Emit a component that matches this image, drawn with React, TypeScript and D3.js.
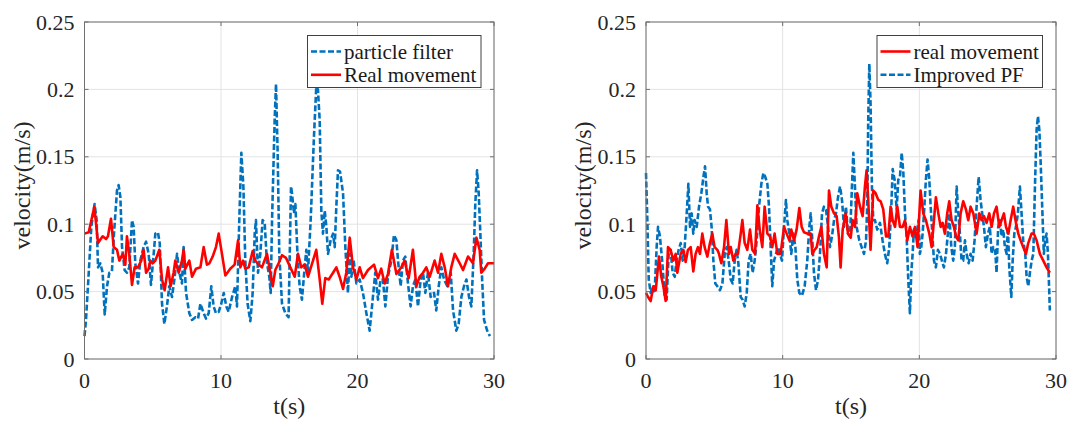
import React from "react";
import * as d3 from "d3";

type Pt = [number, number];

const xTicks = [0, 10, 20, 30];
const yTicks = [0, 0.05, 0.1, 0.15, 0.2, 0.25];
const yTickLabels = ["0", "0.05", "0.1", "0.15", "0.2", "0.25"];
const xLabel = "t(s)";
const yLabel = "velocity(m/s)";

const leftLegend = ["particle filter", "Real movement"];
const rightLegend = ["real movement", "Improved PF"];

const leftReal: Pt[] = [
  [0, 0.093], [0.31, 0.094], [0.72, 0.113], [0.99, 0.086], [1.33, 0.091], [1.58, 0.089], [1.72, 0.091],
  [1.94, 0.104], [2.14, 0.083], [2.38, 0.081], [2.55, 0.073], [2.8, 0.078], [2.99, 0.07], [3.11, 0.091],
  [3.28, 0.078], [3.48, 0.055], [3.67, 0.068], [3.92, 0.068], [4.16, 0.073], [4.33, 0.081], [4.51, 0.064],
  [4.7, 0.067], [4.82, 0.073], [4.99, 0.071], [5.19, 0.073], [5.48, 0.081], [5.68, 0.059], [5.87, 0.051],
  [6.12, 0.068], [6.31, 0.054], [6.53, 0.064], [6.65, 0.073], [6.9, 0.064], [7.14, 0.073], [7.26, 0.081],
  [7.39, 0.067], [7.68, 0.073], [7.88, 0.061], [8.17, 0.067], [8.49, 0.068], [8.73, 0.083], [8.97, 0.07],
  [9.15, 0.071], [9.39, 0.076], [9.63, 0.083], [9.83, 0.093], [10.07, 0.078], [10.32, 0.062], [10.68, 0.067],
  [11.0, 0.07], [11.25, 0.088], [11.42, 0.068], [11.61, 0.073], [11.78, 0.067], [12.03, 0.068], [12.32, 0.08],
  [12.51, 0.073], [12.76, 0.07], [13.0, 0.068], [13.37, 0.078], [13.54, 0.068], [13.79, 0.054], [13.98, 0.066],
  [14.22, 0.071], [14.47, 0.077], [14.76, 0.075], [15.08, 0.068], [15.4, 0.061], [15.64, 0.078], [15.88, 0.068],
  [16.13, 0.07], [16.37, 0.061], [16.74, 0.073], [16.98, 0.081], [17.23, 0.059], [17.42, 0.041], [17.64, 0.06],
  [17.89, 0.059], [18.21, 0.064], [18.45, 0.068], [18.69, 0.061], [18.94, 0.052], [19.18, 0.064], [19.43, 0.09],
  [19.67, 0.068], [19.92, 0.059], [20.16, 0.068], [20.4, 0.06], [20.77, 0.066], [21.21, 0.07], [21.5, 0.06],
  [21.74, 0.067], [21.99, 0.056], [22.23, 0.063], [22.52, 0.081], [22.85, 0.063], [23.21, 0.068], [23.45, 0.073],
  [23.75, 0.06], [24.06, 0.081], [24.31, 0.054], [24.55, 0.061], [24.8, 0.064], [25.04, 0.068], [25.29, 0.061],
  [25.65, 0.073], [25.9, 0.064], [26.14, 0.078], [26.39, 0.068], [26.63, 0.054], [26.87, 0.068], [27.12, 0.078],
  [27.49, 0.071], [27.73, 0.066], [28.1, 0.076], [28.46, 0.071], [28.71, 0.09], [28.95, 0.081], [29.07, 0.064],
  [29.32, 0.067], [29.56, 0.071], [30, 0.071],
];

const leftParticleFilter: Pt[] = [
  [0, 0.017], [0.11, 0.029], [0.31, 0.064], [0.5, 0.098], [0.74, 0.115], [0.89, 0.103], [0.99, 0.068],
  [1.16, 0.071], [1.33, 0.064], [1.48, 0.033], [1.65, 0.054], [1.82, 0.064], [2.01, 0.065], [2.16, 0.093],
  [2.38, 0.125], [2.5, 0.129], [2.63, 0.12], [2.75, 0.083], [2.94, 0.066], [3.11, 0.064], [3.28, 0.068],
  [3.48, 0.103], [3.6, 0.098], [3.72, 0.071], [3.92, 0.056], [4.09, 0.073], [4.33, 0.083], [4.51, 0.087],
  [4.7, 0.078], [4.87, 0.055], [5.07, 0.078], [5.19, 0.093], [5.38, 0.094], [5.51, 0.086], [5.68, 0.041],
  [5.85, 0.026], [6.04, 0.039], [6.21, 0.054], [6.41, 0.046], [6.61, 0.061], [6.78, 0.078], [6.95, 0.064],
  [7.14, 0.056], [7.26, 0.083], [7.44, 0.049], [7.68, 0.034], [7.88, 0.029], [8.12, 0.031], [8.32, 0.03],
  [8.49, 0.041], [8.73, 0.034], [8.9, 0.03], [9.1, 0.034], [9.29, 0.054], [9.46, 0.039], [9.63, 0.034],
  [9.83, 0.035], [10.02, 0.041], [10.2, 0.049], [10.39, 0.039], [10.56, 0.035], [10.81, 0.046], [11.05, 0.054],
  [11.17, 0.039], [11.34, 0.103], [11.49, 0.153], [11.64, 0.128], [11.78, 0.073], [11.95, 0.041], [12.15, 0.028],
  [12.32, 0.049], [12.47, 0.093], [12.56, 0.103], [12.71, 0.064], [12.88, 0.078], [13.05, 0.103], [13.2, 0.101],
  [13.37, 0.071], [13.54, 0.061], [13.64, 0.049], [13.74, 0.103], [13.93, 0.177], [14.03, 0.204], [14.15, 0.153],
  [14.27, 0.078], [14.47, 0.041], [14.71, 0.034], [14.95, 0.031], [15.13, 0.128], [15.2, 0.123], [15.35, 0.108],
  [15.45, 0.115], [15.6, 0.078], [15.76, 0.054], [15.93, 0.044], [16.13, 0.068], [16.25, 0.081], [16.37, 0.064],
  [16.57, 0.103], [16.81, 0.165], [16.98, 0.202], [17.1, 0.2], [17.23, 0.177], [17.35, 0.11], [17.47, 0.093],
  [17.6, 0.11], [17.72, 0.098], [17.84, 0.078], [18.03, 0.088], [18.21, 0.093], [18.33, 0.083], [18.45, 0.113],
  [18.57, 0.14], [18.72, 0.139], [18.94, 0.123], [19.11, 0.083], [19.3, 0.049], [19.43, 0.078], [19.55, 0.061],
  [19.72, 0.073], [19.92, 0.056], [20.16, 0.059], [20.4, 0.049], [20.65, 0.034], [20.89, 0.021], [21.13, 0.046],
  [21.3, 0.064], [21.5, 0.044], [21.69, 0.059], [21.86, 0.059], [22.04, 0.039], [22.23, 0.061], [22.48, 0.073],
  [22.67, 0.092], [22.85, 0.088], [22.97, 0.073], [23.16, 0.054], [23.33, 0.073], [23.5, 0.076], [23.7, 0.056],
  [23.89, 0.039], [24.06, 0.054], [24.24, 0.059], [24.43, 0.039], [24.63, 0.059], [24.8, 0.064], [24.97, 0.049],
  [25.16, 0.064], [25.36, 0.046], [25.61, 0.049], [25.77, 0.036], [25.95, 0.054], [26.14, 0.068], [26.34, 0.059],
  [26.58, 0.054], [26.83, 0.064], [27.0, 0.036], [27.24, 0.021], [27.41, 0.026], [27.61, 0.046], [27.8, 0.054],
  [27.98, 0.059], [28.17, 0.046], [28.34, 0.039], [28.51, 0.078], [28.63, 0.115], [28.76, 0.14], [28.88, 0.123],
  [29.0, 0.093], [29.13, 0.059], [29.27, 0.029], [29.5, 0.021], [29.7, 0.017],
];

const rightReal: Pt[] = [
  [0, 0.049], [0.15, 0.046], [0.34, 0.043], [0.54, 0.054], [0.71, 0.051], [0.95, 0.076], [1.12, 0.061],
  [1.27, 0.054], [1.44, 0.043], [1.61, 0.083], [1.8, 0.081], [2.0, 0.073], [2.17, 0.078], [2.29, 0.064],
  [2.54, 0.078], [2.73, 0.081], [2.9, 0.072], [3.07, 0.081], [3.27, 0.083], [3.46, 0.065], [3.63, 0.078],
  [3.8, 0.083], [3.95, 0.078], [4.12, 0.093], [4.29, 0.083], [4.49, 0.076], [4.68, 0.086], [4.85, 0.093],
  [5.02, 0.083], [5.22, 0.081], [5.34, 0.078], [5.51, 0.071], [5.71, 0.083], [5.88, 0.103], [6.07, 0.078],
  [6.2, 0.083], [6.39, 0.073], [6.56, 0.078], [6.73, 0.078], [6.93, 0.093], [7.05, 0.103], [7.22, 0.086],
  [7.41, 0.081], [7.61, 0.096], [7.78, 0.081], [7.98, 0.078], [8.15, 0.114], [8.32, 0.096], [8.51, 0.083],
  [8.68, 0.113], [8.88, 0.093], [9.07, 0.091], [9.24, 0.083], [9.41, 0.093], [9.61, 0.078], [9.85, 0.078],
  [10.1, 0.098], [10.29, 0.093], [10.49, 0.088], [10.63, 0.096], [10.83, 0.088], [11.02, 0.096], [11.22, 0.112],
  [11.39, 0.098], [11.56, 0.094], [11.8, 0.093], [12.05, 0.093], [12.17, 0.078], [12.34, 0.081], [12.49, 0.083],
  [12.66, 0.091], [12.83, 0.098], [13.02, 0.078], [13.22, 0.068], [13.39, 0.125], [13.56, 0.113], [13.76, 0.108],
  [13.95, 0.106], [14.12, 0.09], [14.24, 0.068], [14.39, 0.096], [14.61, 0.108], [14.78, 0.093], [14.98, 0.09],
  [15.12, 0.103], [15.29, 0.098], [15.46, 0.123], [15.66, 0.113], [15.85, 0.106], [16.02, 0.128], [16.14, 0.14],
  [16.26, 0.118], [16.43, 0.081], [16.63, 0.125], [16.8, 0.123], [17.0, 0.118], [17.17, 0.117], [17.36, 0.111],
  [17.56, 0.091], [17.73, 0.091], [17.9, 0.113], [18.05, 0.103], [18.22, 0.098], [18.39, 0.113], [18.58, 0.098],
  [18.78, 0.098], [18.95, 0.103], [19.12, 0.088], [19.31, 0.098], [19.5, 0.091], [19.68, 0.098], [19.87, 0.083],
  [20.09, 0.125], [20.29, 0.108], [20.48, 0.103], [20.73, 0.093], [20.9, 0.083], [21.07, 0.103], [21.21, 0.12],
  [21.39, 0.108], [21.56, 0.098], [21.7, 0.101], [21.87, 0.093], [22.04, 0.108], [22.19, 0.117], [22.36, 0.103],
  [22.53, 0.098], [22.68, 0.091], [22.85, 0.088], [23.02, 0.108], [23.21, 0.117], [23.41, 0.111], [23.58, 0.103],
  [23.75, 0.113], [23.95, 0.108], [24.19, 0.093], [24.39, 0.108], [24.55, 0.103], [24.73, 0.106], [24.92, 0.101],
  [25.12, 0.108], [25.29, 0.098], [25.46, 0.108], [25.65, 0.113], [25.85, 0.098], [26.02, 0.103], [26.19, 0.108],
  [26.34, 0.098], [26.51, 0.093], [26.68, 0.103], [26.87, 0.113], [27.07, 0.101], [27.24, 0.093], [27.41, 0.088],
  [27.6, 0.083], [27.8, 0.078], [27.97, 0.086], [28.21, 0.093], [28.38, 0.093], [28.58, 0.088], [28.82, 0.078],
  [29.07, 0.073], [29.31, 0.068], [29.55, 0.064],
];

const rightImprovedPF: Pt[] = [
  [0, 0.138], [0.1, 0.103], [0.2, 0.059], [0.34, 0.049], [0.49, 0.054], [0.63, 0.049], [0.78, 0.083],
  [0.88, 0.098], [1.02, 0.091], [1.2, 0.071], [1.37, 0.046], [1.51, 0.044], [1.66, 0.078], [1.8, 0.081],
  [1.95, 0.064], [2.1, 0.061], [2.24, 0.073], [2.39, 0.081], [2.54, 0.086], [2.68, 0.073], [2.83, 0.083],
  [2.98, 0.108], [3.1, 0.13], [3.22, 0.098], [3.34, 0.108], [3.46, 0.093], [3.56, 0.103], [3.71, 0.098],
  [3.88, 0.113], [4.05, 0.123], [4.2, 0.135], [4.32, 0.143], [4.44, 0.123], [4.54, 0.113], [4.68, 0.111],
  [4.8, 0.098], [4.93, 0.073], [5.07, 0.056], [5.22, 0.054], [5.41, 0.051], [5.59, 0.056], [5.76, 0.078],
  [5.9, 0.083], [6.05, 0.073], [6.2, 0.059], [6.34, 0.056], [6.49, 0.073], [6.63, 0.081], [6.76, 0.071],
  [6.93, 0.046], [7.07, 0.044], [7.22, 0.039], [7.37, 0.049], [7.51, 0.073], [7.66, 0.078], [7.8, 0.064],
  [7.95, 0.073], [8.1, 0.088], [8.27, 0.113], [8.44, 0.13], [8.59, 0.138], [8.73, 0.135], [8.88, 0.13],
  [9.0, 0.113], [9.12, 0.083], [9.24, 0.054], [9.37, 0.073], [9.51, 0.078], [9.66, 0.083], [9.8, 0.078],
  [9.95, 0.073], [10.1, 0.098], [10.24, 0.118], [10.34, 0.103], [10.49, 0.093], [10.63, 0.078], [10.78, 0.093],
  [10.93, 0.083], [11.07, 0.059], [11.22, 0.049], [11.41, 0.047], [11.61, 0.054], [11.8, 0.073], [11.95, 0.098],
  [12.05, 0.108], [12.17, 0.088], [12.29, 0.064], [12.44, 0.051], [12.59, 0.059], [12.73, 0.078], [12.88, 0.108],
  [13.02, 0.113], [13.17, 0.111], [13.32, 0.098], [13.46, 0.083], [13.61, 0.091], [13.76, 0.103], [13.9, 0.108],
  [14.05, 0.12], [14.2, 0.128], [14.34, 0.118], [14.49, 0.098], [14.63, 0.113], [14.78, 0.093], [14.93, 0.091],
  [15.07, 0.128], [15.17, 0.153], [15.29, 0.128], [15.41, 0.098], [15.61, 0.088], [15.78, 0.083], [15.95, 0.078],
  [16.1, 0.088], [16.19, 0.115], [16.26, 0.177], [16.34, 0.219], [16.43, 0.19], [16.53, 0.128], [16.63, 0.103],
  [16.75, 0.103], [16.92, 0.096], [17.12, 0.101], [17.31, 0.088], [17.48, 0.078], [17.65, 0.071], [17.8, 0.083],
  [17.95, 0.113], [18.05, 0.141], [18.19, 0.133], [18.34, 0.111], [18.46, 0.133], [18.58, 0.135], [18.71, 0.153],
  [18.83, 0.138], [18.95, 0.108], [19.07, 0.091], [19.19, 0.059], [19.31, 0.034], [19.41, 0.064], [19.51, 0.078],
  [19.6, 0.096], [19.7, 0.091], [19.8, 0.093], [19.95, 0.103], [20.04, 0.078], [20.14, 0.083], [20.24, 0.093],
  [20.34, 0.108], [20.48, 0.133], [20.6, 0.148], [20.73, 0.133], [20.83, 0.113], [20.95, 0.093], [21.07, 0.073],
  [21.21, 0.068], [21.36, 0.081], [21.51, 0.078], [21.65, 0.073], [21.8, 0.068], [21.95, 0.078], [22.07, 0.091],
  [22.19, 0.108], [22.34, 0.083], [22.48, 0.073], [22.6, 0.083], [22.73, 0.128], [22.82, 0.113], [22.97, 0.093],
  [23.09, 0.073], [23.21, 0.073], [23.34, 0.088], [23.46, 0.078], [23.61, 0.071], [23.75, 0.078], [23.9, 0.073],
  [24.04, 0.088], [24.19, 0.113], [24.34, 0.135], [24.48, 0.118], [24.6, 0.108], [24.73, 0.098], [24.87, 0.083],
  [25.02, 0.093], [25.16, 0.098], [25.29, 0.078], [25.41, 0.083], [25.55, 0.081], [25.65, 0.064], [25.77, 0.098],
  [25.9, 0.103], [26.02, 0.091], [26.14, 0.096], [26.26, 0.083], [26.39, 0.078], [26.48, 0.098], [26.58, 0.068],
  [26.73, 0.046], [26.83, 0.073], [26.95, 0.093], [27.07, 0.098], [27.21, 0.108], [27.36, 0.128], [27.48, 0.108],
  [27.6, 0.088], [27.75, 0.078], [27.85, 0.061], [27.97, 0.054], [28.09, 0.064], [28.22, 0.073], [28.34, 0.078],
  [28.46, 0.128], [28.58, 0.17], [28.68, 0.18], [28.78, 0.17], [28.87, 0.148], [28.99, 0.113], [29.11, 0.078],
  [29.21, 0.088], [29.31, 0.093], [29.41, 0.078], [29.51, 0.049], [29.55, 0.036],
];

const BLUE = "#0072BD";
const RED = "#FF0000";
const FONT_STYLE = { fontFamily: '"Liberation Serif", monospace' };
const DASH = "6,2.5";

type Series = { data: Pt[]; color: string; dashed: boolean; label: string };

function Panel(props: {
  left: number;
  right: number;
  series: Series[];
  legendOrder: Series[];
  legendBox: { x: number; y: number; w: number; h: number };
}) {
  const { left, right, series, legendOrder, legendBox } = props;
  const top = 22;
  const bottom = 359;
  const x = d3.scaleLinear().domain([0, 30]).range([left, right]);
  const y = d3.scaleLinear().domain([0, 0.25]).range([bottom, top]);
  const line = d3
    .line<Pt>()
    .x((d) => x(d[0]))
    .y((d) => y(d[1]));
  const tickLen = 4;
  const axisColor = "#707070";
  const gridColor = "#e3e3e3";
  return (
    <g>
      {xTicks.map((t) => (
        <line key={"gx" + t} x1={x(t)} x2={x(t)} y1={top} y2={bottom} stroke={gridColor} strokeWidth={1} />
      ))}
      {yTicks.map((t) => (
        <line key={"gy" + t} x1={left} x2={right} y1={y(t)} y2={y(t)} stroke={gridColor} strokeWidth={1} />
      ))}
      {series.map((s, i) => (
        <path
          key={"s" + i}
          d={line(s.data) || ""}
          fill="none"
          stroke={s.color}
          strokeWidth={2.6}
          strokeDasharray={s.dashed ? DASH : undefined}
          strokeLinejoin="round"
        />
      ))}
      <rect x={left} y={top} width={right - left} height={bottom - top} fill="none" stroke={axisColor} strokeWidth={1} />
      {xTicks.map((t) => (
        <g key={"tx" + t}>
          <line x1={x(t)} x2={x(t)} y1={bottom} y2={bottom - tickLen} stroke={axisColor} />
          <line x1={x(t)} x2={x(t)} y1={top} y2={top + tickLen} stroke={axisColor} />
          <text x={x(t)} y={388} textAnchor="middle" fontSize={22} style={FONT_STYLE} fill="#262626">
            {String(t)}
          </text>
        </g>
      ))}
      {yTicks.map((t, i) => (
        <g key={"ty" + t}>
          <line x1={left} x2={left + tickLen} y1={y(t)} y2={y(t)} stroke={axisColor} />
          <line x1={right} x2={right - tickLen} y1={y(t)} y2={y(t)} stroke={axisColor} />
          <text x={left - 10} y={y(t) + 7.5} textAnchor="end" fontSize={22} style={FONT_STYLE} fill="#262626">
            {yTickLabels[i]}
          </text>
        </g>
      ))}
      <text x={(left + right) / 2} y={414} textAnchor="middle" fontSize={24} style={FONT_STYLE} fill="#262626">
        {xLabel}
      </text>
      <text
        transform={`translate(${left - 55},${(top + bottom) / 2 - 5}) rotate(-90)`}
        textAnchor="middle"
        fontSize={24}
        style={FONT_STYLE}
        fill="#262626"
      >
        {yLabel}
      </text>
      <rect x={legendBox.x} y={legendBox.y} width={legendBox.w} height={legendBox.h} fill="#fff" stroke="#404040" strokeWidth={1} />
      {legendOrder.map((s, i) => {
        const cy = legendBox.y + 16 + i * 23.3;
        return (
          <g key={"lg" + i}>
            <line
              x1={legendBox.x + 3.5}
              x2={legendBox.x + 33.5}
              y1={cy}
              y2={cy}
              stroke={s.color}
              strokeWidth={2.6}
              strokeDasharray={s.dashed ? DASH : undefined}
            />
            <text x={legendBox.x + 36.5} y={cy + 7} fontSize={21} style={FONT_STYLE} fill="#1a1a1a">
              {s.label}
            </text>
          </g>
        );
      })}
    </g>
  );
}

export default function App() {
  const lPF: Series = { data: leftParticleFilter, color: BLUE, dashed: true, label: leftLegend[0] };
  const lReal: Series = { data: leftReal, color: RED, dashed: false, label: leftLegend[1] };
  const rReal: Series = { data: rightReal, color: RED, dashed: false, label: rightLegend[0] };
  const rPF: Series = { data: rightImprovedPF, color: BLUE, dashed: true, label: rightLegend[1] };
  return (
    <svg width={1070} height={423} style={{ position: "absolute", left: 0, top: 0 }}>
      <rect x={0} y={0} width={1070} height={423} fill="#fff" />
      <Panel
        left={84.5}
        right={494}
        series={[lPF, lReal]}
        legendOrder={[lPF, lReal]}
        legendBox={{ x: 307.5, y: 35.5, w: 173.5, h: 52 }}
      />
      <Panel
        left={646}
        right={1056}
        series={[rPF, rReal]}
        legendOrder={[rReal, rPF]}
        legendBox={{ x: 877, y: 35.5, w: 165.5, h: 52 }}
      />
    </svg>
  );
}
